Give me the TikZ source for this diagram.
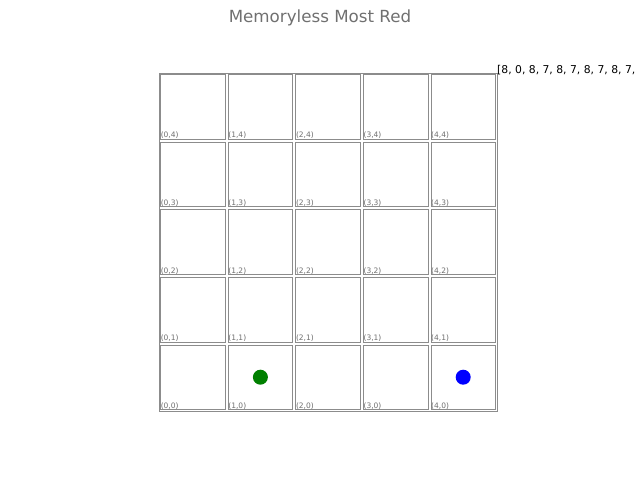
\documentclass[tikz,border=0pt]{standalone}
\usepackage{fontspec}
\setmainfont{DejaVu Sans}
\usetikzlibrary{positioning}
\definecolor{Grid}{HTML}{8C8C8C}
\definecolor{Label}{HTML}{707070}
\definecolor{Agent}{HTML}{008000}
\definecolor{Goal}{HTML}{0000FF}
\tikzset{cell/.style={draw=Grid,line width=.8pt,minimum size=64.6pt,inner sep=0pt},coord/.style={font=\fontsize{7.5}{8}\selectfont,text=Label,inner sep=.5pt,anchor=south west},dot/.style={circle,minimum size=15pt,inner sep=0pt}}

\begin{document}
\begin{tikzpicture}[x=1pt,y=-1pt]
      \useasboundingbox(0,0)rectangle(640,480);
      \clip(0,0)rectangle(640,480);
      \node[font=\fontsize{16.7}{18}\selectfont,text=Label](title)at(320,18){Memoryless Most Red};
      \draw[Grid,line width=.8pt](159,73)rectangle(497,411);
      \foreach \i in {0,...,4}{\foreach \j in {0,...,4}{
        \node[cell](c\i\j)at({159+67.6*(\i+.5)},{73+67.6*(4-\j+.5)}){};
        \node[coord]at(c\i\j.south west){(\i,\j)};}}
      \node[dot,fill=Agent](agent)at(c10){};
      \node[dot,fill=Goal](goal)at(c40){};
      \node[anchor=west,font=\fontsize{10.8}{12}\selectfont,inner sep=0pt](seq)at(497,70){[8, 0, 8, 7, 8, 7, 8, 7, 8, 7,};
    \end{tikzpicture}
\end{document}
